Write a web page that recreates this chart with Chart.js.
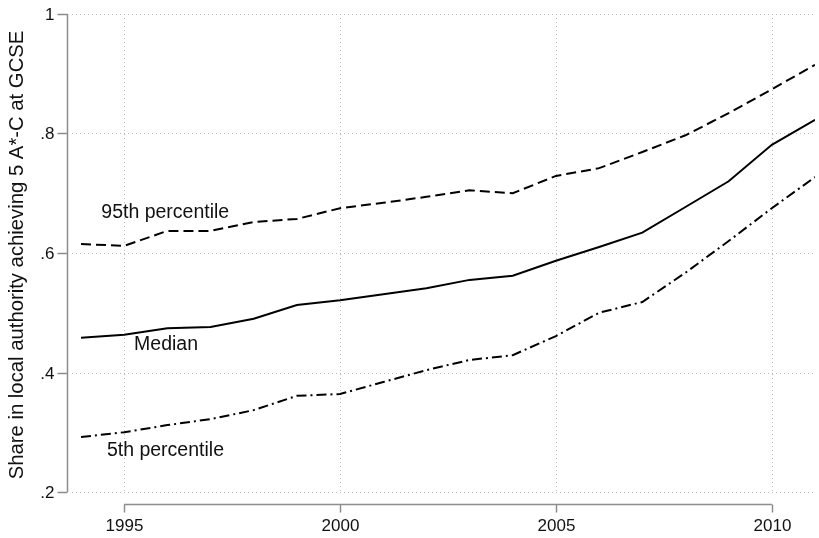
<!DOCTYPE html>
<html>
<head>
<meta charset="utf-8">
<script src="https://cdn.jsdelivr.net/npm/chart.js@4.4.1/dist/chart.umd.min.js"></script>
<style>
    html, body { margin: 0; padding: 0; background: #fff; }
    #wrap { width: 819px; height: 538px; position: relative; }
</style>
</head>
<body>
<div id="wrap"><canvas id="gcseChart"></canvas></div>
<script>
// data
const years = [1994, 1995, 1996, 1997, 1998, 1999, 2000, 2001, 2002, 2003, 2004, 2005, 2006, 2007, 2008, 2009, 2010, 2011];
const p95 = [0.615, 0.612, 0.637, 0.637, 0.652, 0.657, 0.675, 0.684, 0.694, 0.705, 0.700, 0.729, 0.742, 0.769, 0.797, 0.834, 0.874, 0.915];
const median = [0.458, 0.463, 0.474, 0.476, 0.490, 0.513, 0.521, 0.531, 0.541, 0.555, 0.562, 0.587, 0.610, 0.634, 0.677, 0.720, 0.781, 0.823];
const p5 = [0.292, 0.300, 0.312, 0.322, 0.337, 0.361, 0.364, 0.384, 0.404, 0.421, 0.429, 0.461, 0.500, 0.518, 0.567, 0.620, 0.675, 0.727];
const xTicks = [1995, 2000, 2005, 2010];
const yTicks = [0.2, 0.4, 0.6, 0.8, 1];
const yTickLabels = ['.2', '.4', '.6', '.8', '1'];
const yTitle = 'Share in local authority achieving 5 A*-C at GCSE';
const seriesNames = ['95th percentile', 'Median', '5th percentile'];

const FONT = "'Liberation Sans', Arial, Helvetica, sans-serif";

// where the series names sit, in data units
const nameSpots = [
    { x: 1994.47, y: 0.667 },
    { x: 1995.23, y: 0.446 },
    { x: 1994.6, y: 0.269 }
];

function strokeLine(ctx, x1, y1, x2, y2) {
    ctx.beginPath();
    ctx.moveTo(x1, y1);
    ctx.lineTo(x2, y2);
    ctx.stroke();
}

// Stata-like frame: dotted grid, detached axes, labels
const stataFrame = {
    id: 'stataFrame',
    beforeDatasetsDraw(chart) {
        const { ctx, chartArea: a, scales: { x, y } } = chart;
        ctx.save();
        ctx.strokeStyle = '#bdbdbd';
        ctx.lineWidth = 1;
        ctx.setLineDash([1, 3]);
        yTicks.forEach(v => {
            const py = Math.round(y.getPixelForValue(v)) + 0.5;
            strokeLine(ctx, a.left - 9, py, a.right, py);
        });
        xTicks.forEach(v => {
            const px = Math.round(x.getPixelForValue(v)) + 0.5;
            strokeLine(ctx, px, a.top, px, a.bottom);
        });
        ctx.restore();
    },
    afterDatasetsDraw(chart) {
        const { ctx, chartArea: a, scales: { x, y } } = chart;
        ctx.save();
        ctx.strokeStyle = '#8c8c8c';
        ctx.lineWidth = 1.5;
        ctx.setLineDash([]);

        // y axis
        const ax = a.left - 13.5;
        strokeLine(ctx, ax, y.getPixelForValue(yTicks[0]), ax, y.getPixelForValue(yTicks[yTicks.length - 1]));
        ctx.fillStyle = '#111';
        ctx.font = '17px ' + FONT;
        ctx.textAlign = 'right';
        ctx.textBaseline = 'middle';
        yTicks.forEach((v, i) => {
            const py = Math.round(y.getPixelForValue(v)) + 0.5;
            strokeLine(ctx, ax - 10, py, ax, py);
            ctx.fillText(yTickLabels[i], ax - 13, py + 1);
        });

        // x axis
        const ay = a.bottom + 12.5;
        strokeLine(ctx, x.getPixelForValue(xTicks[0]), ay, x.getPixelForValue(xTicks[xTicks.length - 1]), ay);
        ctx.textAlign = 'center';
        xTicks.forEach(v => {
            const px = Math.round(x.getPixelForValue(v)) + 0.5;
            strokeLine(ctx, px, ay, px, ay + 8);
            ctx.fillText(String(v), px, ay + 22);
        });

        // axis title
        ctx.save();
        ctx.translate(17, (a.top + a.bottom) / 2 + 2);
        ctx.rotate(-Math.PI / 2);
        ctx.font = '20.3px ' + FONT;
        ctx.fillText(yTitle, 0, 0);
        ctx.restore();

        // series names
        ctx.font = '19.5px ' + FONT;
        ctx.textAlign = 'left';
        seriesNames.forEach((name, i) => {
            ctx.fillText(name, x.getPixelForValue(nameSpots[i].x), y.getPixelForValue(nameSpots[i].y));
        });
        ctx.restore();
    }
};

const ctx = document.getElementById('gcseChart').getContext('2d');
const gcseChart = new Chart(ctx, {
    type: 'line',
    data: {
        labels: years,
        datasets: [{
            label: seriesNames[0],
            data: years.map((yr, i) => ({ x: yr, y: p95[i] })),
            borderColor: '#000',
            borderWidth: 2,
            borderDash: [10, 5],
            pointRadius: 0,
            tension: 0
        }, {
            label: seriesNames[1],
            data: years.map((yr, i) => ({ x: yr, y: median[i] })),
            borderColor: '#000',
            borderWidth: 2,
            pointRadius: 0,
            tension: 0
        }, {
            label: seriesNames[2],
            data: years.map((yr, i) => ({ x: yr, y: p5[i] })),
            borderColor: '#000',
            borderWidth: 2,
            borderDash: [10, 4, 2, 4],
            pointRadius: 0,
            tension: 0
        }]
    },
    options: {
        responsive: true,
        maintainAspectRatio: false,
        animation: false,
        layout: {
            padding: { left: 81, right: 4, top: 14, bottom: 46 }
        },
        scales: {
            x: { type: 'linear', min: 1994, max: 2011, display: false },
            y: { type: 'linear', min: 0.2, max: 1, display: false }
        },
        plugins: {
            legend: { display: false },
            tooltip: { enabled: false }
        }
    },
    plugins: [stataFrame]
});
</script>
</body>
</html>
